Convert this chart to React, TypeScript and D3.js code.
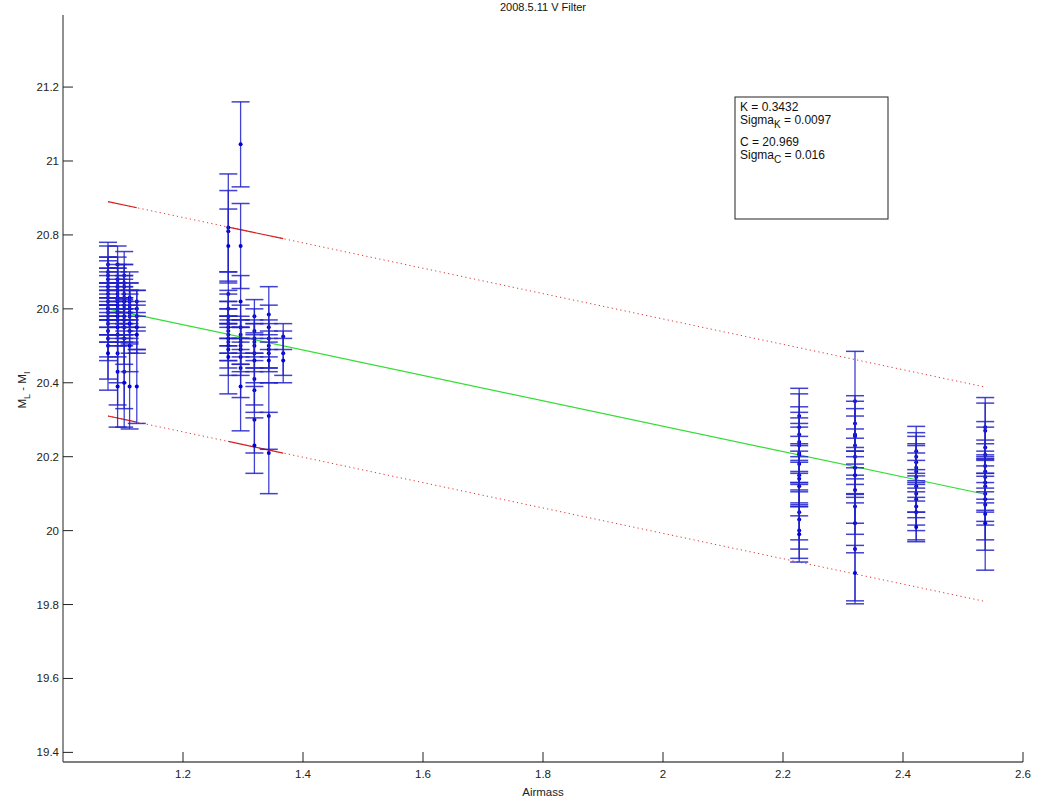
import * as d3 from 'd3'
import React from 'react'

const W = 1038
const H = 801

// airmass of each observation group
const airmass = [1.075, 1.091, 1.102, 1.111, 1.123, 1.2755, 1.296, 1.319, 1.343, 1.367, 2.227, 2.32, 2.422, 2.537]

// M_L - M_I values per group
const magnitudes: number[][] = [
  [20.72, 20.7, 20.69, 20.68, 20.67, 20.66, 20.65, 20.64, 20.63, 20.62, 20.61, 20.6, 20.6, 20.59, 20.58, 20.57, 20.56, 20.54, 20.52, 20.5, 20.48],
  [20.72, 20.68, 20.67, 20.66, 20.65, 20.64, 20.63, 20.62, 20.61, 20.6, 20.59, 20.58, 20.57, 20.55, 20.53, 20.48, 20.43, 20.39],
  [20.69, 20.67, 20.66, 20.64, 20.63, 20.62, 20.61, 20.6, 20.58, 20.57, 20.55, 20.52, 20.43, 20.4],
  [20.63, 20.62, 20.61, 20.6, 20.59, 20.58, 20.56, 20.54, 20.5, 20.39],
  [20.62, 20.6, 20.58, 20.55, 20.53, 20.39],
  [20.82, 20.81, 20.77, 20.64, 20.6, 20.58, 20.57, 20.56, 20.55, 20.54, 20.53, 20.52, 20.51, 20.5, 20.49, 20.47],
  [21.045, 20.77, 20.62, 20.55, 20.53, 20.52, 20.51, 20.5, 20.49, 20.47, 20.44, 20.39],
  [20.58, 20.54, 20.52, 20.51, 20.5, 20.48, 20.46, 20.41, 20.38, 20.3, 20.23],
  [20.585, 20.55, 20.52, 20.5, 20.49, 20.48, 20.46, 20.31, 20.21],
  [20.525, 20.48, 20.46],
  [20.31, 20.28, 20.26, 20.24, 20.23, 20.21, 20.205, 20.18, 20.15, 20.14, 20.12, 20.05, 20.03, 20.0, 19.99],
  [20.35, 20.29, 20.26, 20.255, 20.23, 20.2, 20.17, 20.15, 20.11, 20.065, 20.02, 19.95, 19.885],
  [20.215, 20.2, 20.185, 20.17, 20.16, 20.145, 20.12, 20.1, 20.085, 20.065, 20.05, 20.01],
  [20.28, 20.27, 20.225, 20.205, 20.175, 20.16, 20.145, 20.13, 20.12, 20.1, 20.085, 20.07, 20.045, 20.02],
]

// 1-sigma errors per group
const errors: number[][] = [
  [0.06, 0.07, 0.05, 0.06, 0.06, 0.05, 0.05, 0.07, 0.06, 0.05, 0.06, 0.05, 0.07, 0.06, 0.05, 0.06, 0.05, 0.07, 0.06, 0.09, 0.1],
  [0.05, 0.06, 0.05, 0.05, 0.06, 0.06, 0.05, 0.05, 0.06, 0.05, 0.06, 0.05, 0.06, 0.05, 0.06, 0.08, 0.09, 0.11],
  [0.065, 0.05, 0.06, 0.05, 0.06, 0.06, 0.05, 0.06, 0.05, 0.06, 0.05, 0.07, 0.1, 0.12],
  [0.07, 0.05, 0.06, 0.05, 0.06, 0.06, 0.05, 0.06, 0.07, 0.115],
  [0.03, 0.05, 0.04, 0.06, 0.05, 0.1],
  [0.145, 0.11, 0.1, 0.06, 0.05, 0.06, 0.05, 0.06, 0.05, 0.06, 0.05, 0.06, 0.05, 0.06, 0.07, 0.1],
  [0.115, 0.115, 0.07, 0.06, 0.05, 0.05, 0.06, 0.05, 0.06, 0.05, 0.08, 0.12],
  [0.045, 0.06, 0.05, 0.05, 0.06, 0.05, 0.06, 0.07, 0.06, 0.09, 0.075],
  [0.075, 0.06, 0.05, 0.06, 0.05, 0.05, 0.06, 0.09, 0.11],
  [0.035, 0.06, 0.06],
  [0.075, 0.09, 0.075, 0.08, 0.075, 0.08, 0.075, 0.075, 0.08, 0.075, 0.08, 0.075, 0.08, 0.075, 0.075],
  [0.135, 0.075, 0.09, 0.075, 0.08, 0.075, 0.08, 0.075, 0.09, 0.075, 0.08, 0.148, 0.075],
  [0.067, 0.065, 0.07, 0.065, 0.07, 0.065, 0.07, 0.065, 0.07, 0.065, 0.075, 0.04],
  [0.08, 0.075, 0.07, 0.075, 0.07, 0.075, 0.07, 0.075, 0.07, 0.075, 0.07, 0.123, 0.07, 0.127],
]

// fit results
const K = 0.3432
const sigmaK = 0.0097
const C = 20.969
const sigmaC = 0.016
const band = 0.29

// ranges where the band is drawn dense (solid)
const denseRanges = [
  [1.075, 1.123],
  [1.2755, 1.367],
]

const xTicks = [1.2, 1.4, 1.6, 1.8, 2, 2.2, 2.4, 2.6]
const yTicks = [19.4, 19.6, 19.8, 20, 20.2, 20.4, 20.6, 20.8, 21, 21.2]

const font = 'Liberation Sans, Arial, Helvetica, sans-serif'

const App: React.FC = () => {
  const x = d3.scaleLinear().domain([1, 2.6]).range([63, 1023])
  const y = d3.scaleLinear().domain([19.374, 21.395]).range([762, 15])

  const fit = (a: number) => C - K * a
  const xMin = d3.min(airmass) as number
  const xMax = d3.max(airmass) as number
  const capHalf = x(1.015) - x(1)

  const line = d3
    .line<number>()
    .x((d) => x(d))
    .y((d) => y(fit(d)))
  const lineOff = (off: number) =>
    d3
      .line<number>()
      .x((d) => x(d))
      .y((d) => y(fit(d) + off))

  const errStroke = '#2222c8'

  return (
    <div style={{ position: 'fixed', left: 0, top: 0 }}>
      <svg width={W} height={H} style={{ display: 'block', background: '#fff' }} fontFamily={font}>
        {/* title */}
        <text x={543} y={11} textAnchor='middle' fontSize={11} fill='#111'>
          2008.5.11 V Filter
        </text>

        {/* fit line */}
        <path d={line([xMin, xMax]) || ''} stroke='#33dd33' strokeWidth={1.2} fill='none' />

        {/* confidence band */}
        {[band, -band].map((off) => (
          <g key={off}>
            <path
              d={lineOff(off)([xMin, xMax]) || ''}
              stroke='#e03535'
              strokeWidth={1}
              strokeDasharray='1.2,3.2'
              fill='none'
            />
            {denseRanges.map((r, i) => (
              <path key={i} d={lineOff(off)(r) || ''} stroke='#d42020' strokeWidth={1.2} fill='none' />
            ))}
          </g>
        ))}

        {/* error bars */}
        {airmass.map((a, gi) => (
          <g key={gi}>
            {magnitudes[gi].map((m, i) => {
              const e = errors[gi][i]
              const cx = x(a)
              const y0 = y(m + e)
              const y1 = y(m - e)
              return (
                <g key={i}>
                  <line x1={cx} x2={cx} y1={y0} y2={y1} stroke={errStroke} strokeWidth={1.3} opacity={0.85} />
                  <line x1={cx - capHalf} x2={cx + capHalf} y1={y0} y2={y0} stroke={errStroke} strokeWidth={1.5} opacity={0.85} />
                  <line x1={cx - capHalf} x2={cx + capHalf} y1={y1} y2={y1} stroke={errStroke} strokeWidth={1.5} opacity={0.85} />
                  <circle cx={cx} cy={y(m)} r={2} fill='#0000dd' />
                </g>
              )
            })}
          </g>
        ))}

        {/* axes */}
        <line x1={x(1)} x2={x(1)} y1={y.range()[1]} y2={y.range()[0]} stroke='#222' strokeWidth={1} />
        <line x1={x(1)} x2={x(2.6)} y1={y.range()[0]} y2={y.range()[0]} stroke='#555' strokeWidth={1.5} />
        {yTicks.map((t) => (
          <g key={t}>
            <line x1={x(1)} x2={x(1) + 10} y1={y(t)} y2={y(t)} stroke='#222' />
            <text x={x(1) - 4} y={y(t) + 4} textAnchor='end' fontSize={11.5} fill='#222'>
              {String(+t.toFixed(1))}
            </text>
          </g>
        ))}
        {xTicks.map((t) => (
          <g key={t}>
            <line x1={x(t)} x2={x(t)} y1={y.range()[0]} y2={y.range()[0] - 10} stroke='#222' />
            <text x={x(t)} y={y.range()[0] + 16} textAnchor='middle' fontSize={11.5} fill='#222'>
              {String(+t.toFixed(1))}
            </text>
          </g>
        ))}

        {/* axis labels */}
        <text x={543} y={796} textAnchor='middle' fontSize={11.5} fill='#222'>
          Airmass
        </text>
        <text transform='translate(26,390) rotate(-90)' textAnchor='middle' fontSize={11.5} fill='#222'>
          M<tspan dy={4} fontSize={9}>L</tspan>
          <tspan dy={-4}> - M</tspan>
          <tspan dy={4} fontSize={9}>I</tspan>
        </text>

        {/* results box */}
        <rect x={735} y={97} width={153} height={122} fill='#fff' stroke='#222' strokeWidth={1} />
        <g fontSize={12} fill='#111'>
          <text x={740} y={111}>K = {K.toFixed(4)}</text>
          <text x={740} y={124}>
            Sigma<tspan dy={4} fontSize={10}>K</tspan>
            <tspan dy={-4}> = {sigmaK.toFixed(4)}</tspan>
          </text>
          <text x={740} y={146}>C = {C.toFixed(3)}</text>
          <text x={740} y={159}>
            Sigma<tspan dy={4} fontSize={10}>C</tspan>
            <tspan dy={-4}> = {sigmaC.toFixed(3)}</tspan>
          </text>
        </g>
      </svg>
    </div>
  )
}

export default App
